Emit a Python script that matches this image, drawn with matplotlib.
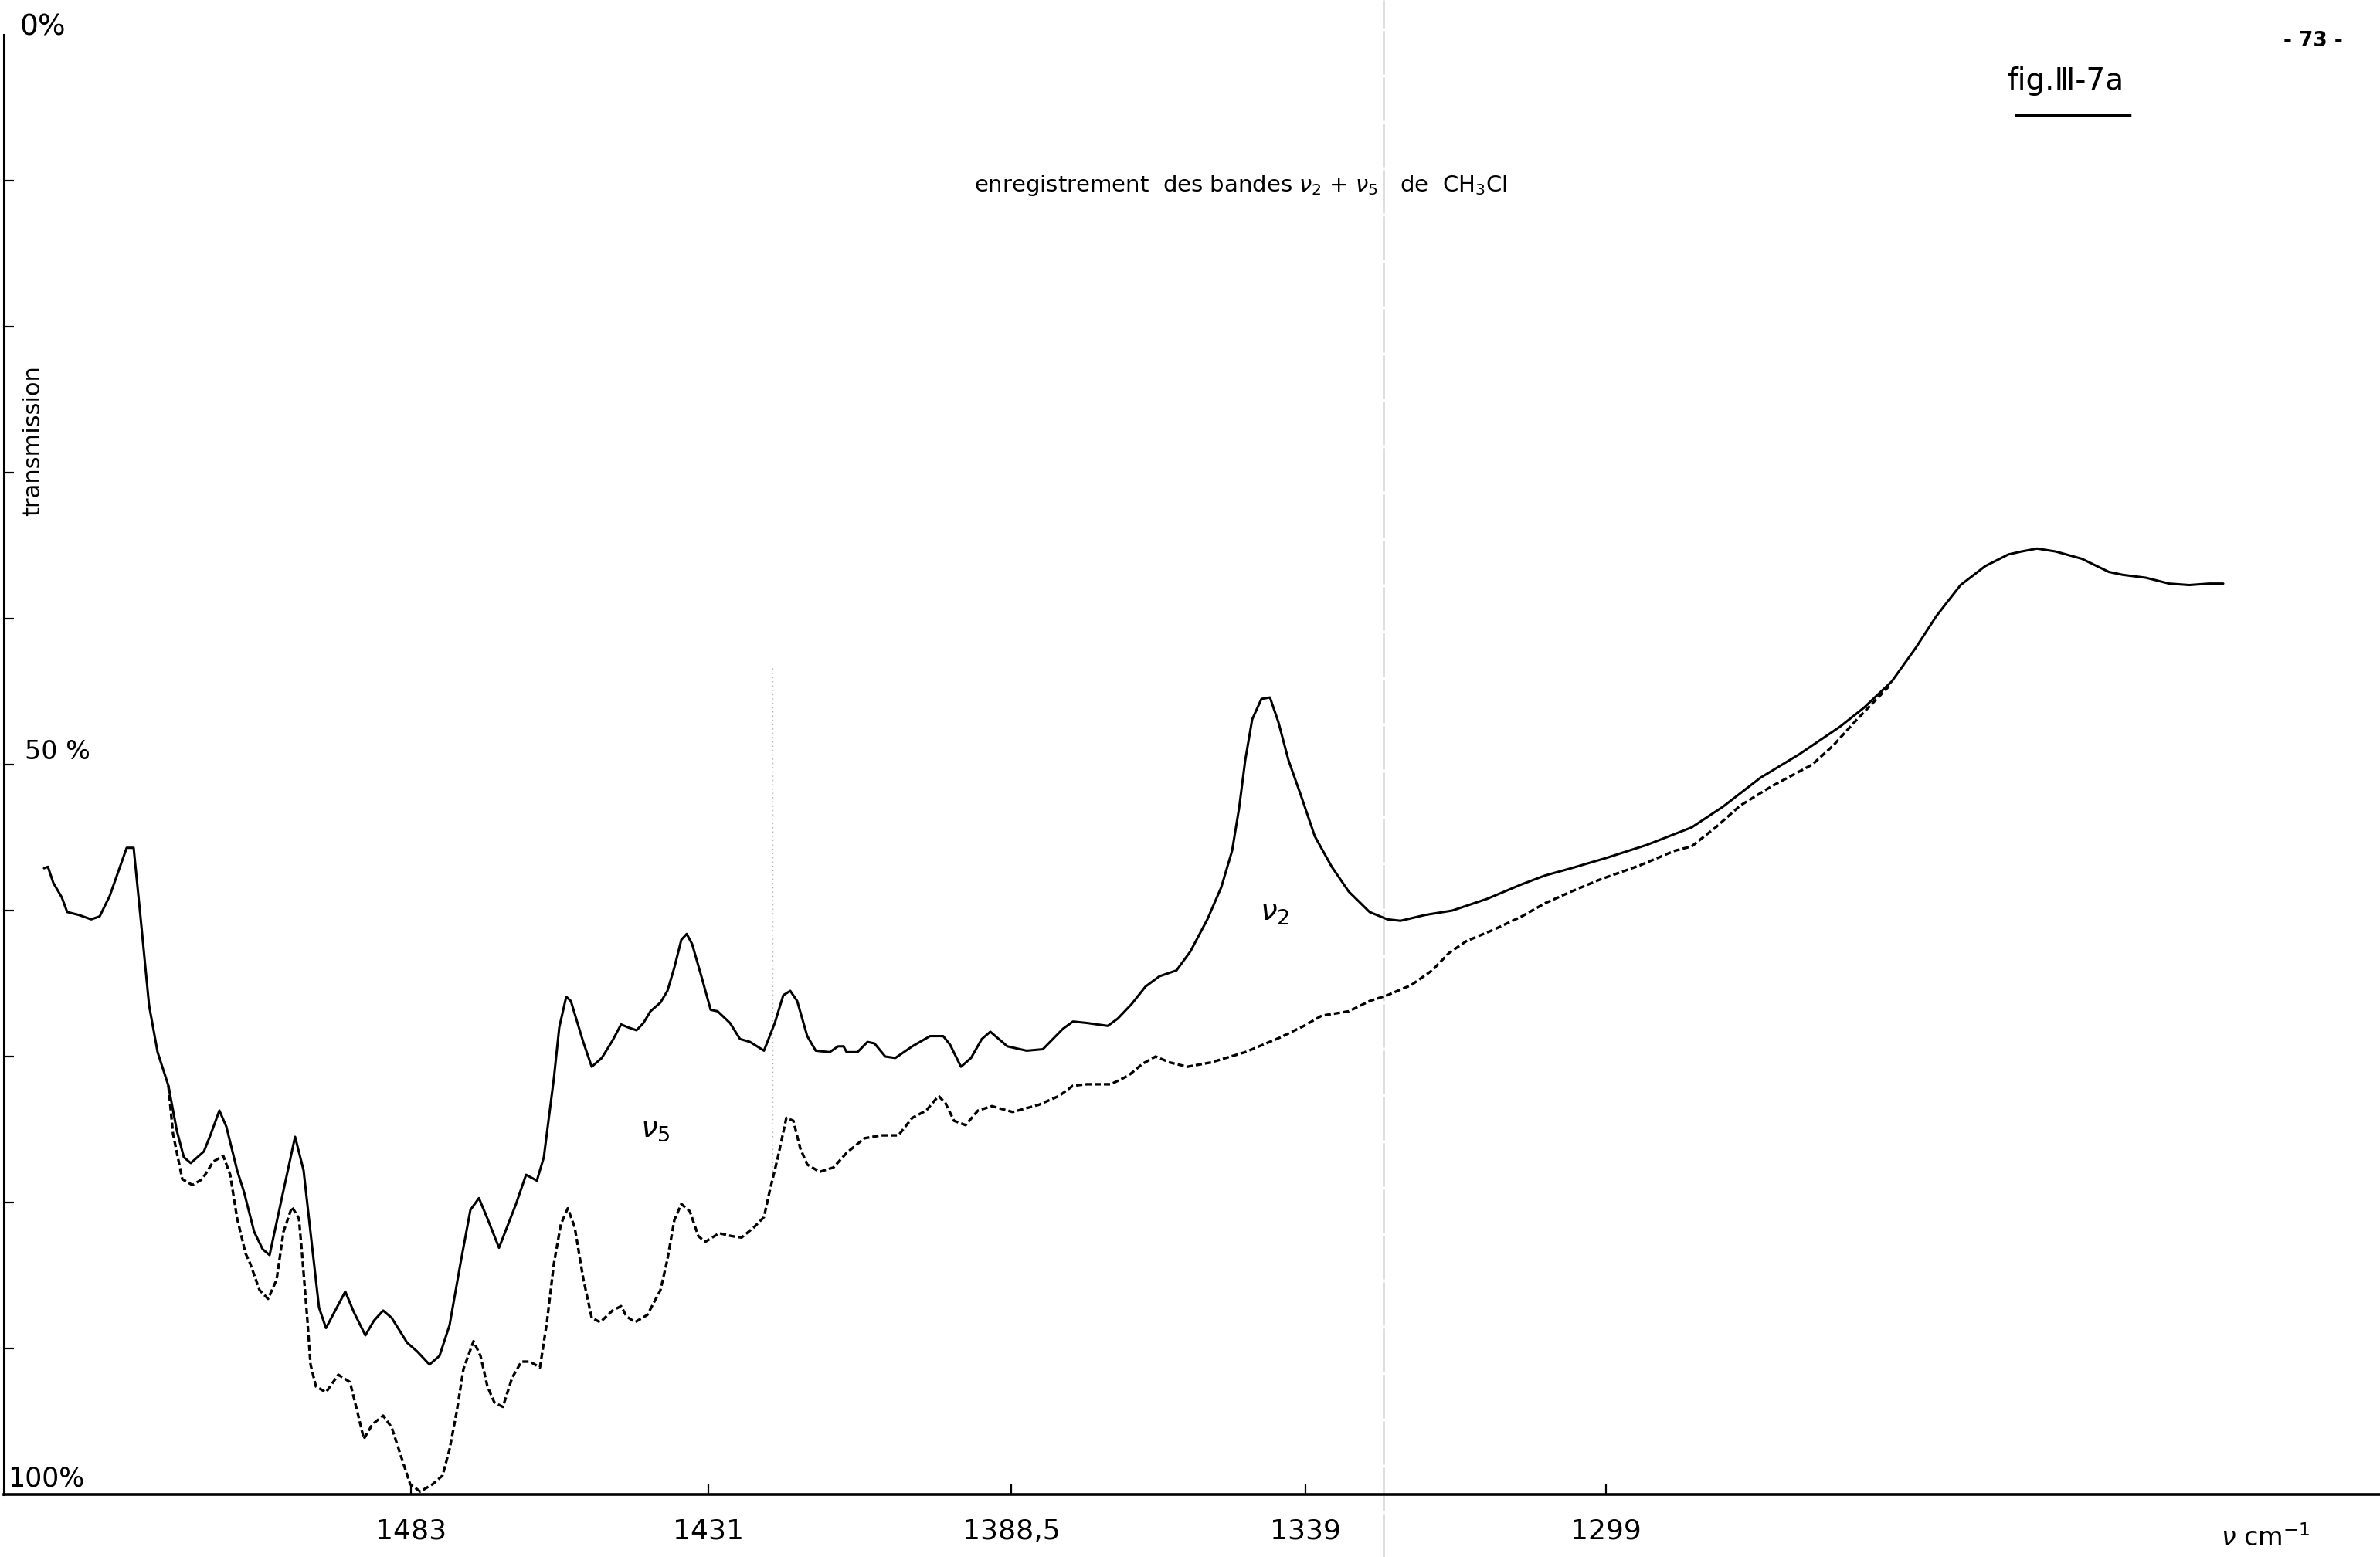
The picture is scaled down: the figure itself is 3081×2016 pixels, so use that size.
import matplotlib.pyplot as plt
from matplotlib.lines import Line2D

# recorder trace: position along the chart paper (left -> right) and transmission in %
solid_pos = [57, 62, 69, 80, 87, 102, 118, 129, 142, 156, 164, 173, 182, 193, 204, 218,
             229, 238, 247, 264, 273, 284, 293, 307, 316, 329, 340, 349, 364, 382, 393,
             404, 413, 422, 433, 447, 458, 473, 484, 496, 507, 527, 540, 556, 569, 582,
             596, 609, 620, 631, 646, 668, 681, 695, 704, 717, 724, 733, 739, 755, 766,
             779, 793, 804, 813, 824, 833, 842, 855, 864, 873, 882, 889, 896, 909, 920,
             929, 945, 958, 971, 989, 1003, 1014, 1023, 1032, 1045, 1056, 1074, 1085,
             1092, 1096, 1110, 1123, 1132, 1146, 1159, 1181, 1204, 1221, 1230, 1244,
             1257, 1271, 1282, 1293, 1304, 1329, 1350, 1376, 1389, 1407, 1434, 1447,
             1465, 1483, 1501, 1523, 1541, 1563, 1581, 1595, 1604, 1612, 1621, 1633,
             1644, 1655, 1668, 1684, 1702, 1724, 1746, 1773, 1796, 1813, 1845, 1880,
             1925, 1970, 2000, 2034, 2079, 2132, 2190, 2230, 2279, 2329, 2382, 2413,
             2449, 2480, 2507, 2538, 2570, 2600, 2617, 2637, 2661, 2695, 2730, 2748,
             2778, 2808, 2834, 2860, 2878]
solid_T = [57.1, 57.0, 58.1, 59.1, 60.1, 60.3, 60.6, 60.4, 59.0, 56.9, 55.7, 55.7, 60.5,
           66.5, 69.7, 72.0, 75.1, 76.9, 77.3, 76.5, 75.3, 73.7, 74.8, 77.8, 79.3, 82.0,
           83.2, 83.6, 79.9, 75.5, 77.8, 83.0, 87.2, 88.6, 87.5, 86.1, 87.5, 89.1, 88.1,
           87.4, 87.9, 89.6, 90.2, 91.1, 90.5, 88.4, 84.2, 80.5, 79.7, 81.1, 83.1, 80.1,
           78.1, 78.5, 76.9, 71.5, 68.0, 65.9, 66.2, 69.0, 70.7, 70.1, 68.9, 67.8, 68.0,
           68.2, 67.7, 66.9, 66.3, 65.5, 63.9, 62.0, 61.6, 62.3, 64.7, 66.8, 66.9, 67.7,
           68.8, 69.0, 69.6, 67.7, 65.8, 65.5, 66.2, 68.6, 69.6, 69.7, 69.3, 69.3, 69.7,
           69.7, 69.0, 69.1, 70.0, 70.1, 69.3, 68.6, 68.6, 69.2, 70.7, 70.1, 68.8, 68.3,
           68.8, 69.3, 69.6, 69.5, 68.1, 67.6, 67.7, 67.9, 67.4, 66.4, 65.2, 64.5, 64.1,
           62.8, 60.6, 58.4, 55.9, 53.0, 49.7, 46.9, 45.5, 45.4, 47.1, 49.7, 52.1, 54.9,
           57.0, 58.7, 60.1, 60.6, 60.7, 60.3, 60.0, 59.2, 58.2, 57.6, 57.1, 56.4, 55.5,
           54.3, 52.9, 50.9, 49.3, 47.4, 46.1, 44.3, 42.0, 39.8, 37.7, 36.4, 35.6, 35.4,
           35.2, 35.4, 35.9, 36.8, 37.0, 37.2, 37.6, 37.7, 37.6, 37.6]

# second recording (dotted trace)
dash_pos = [218, 224, 236, 249, 262, 276, 289, 298, 307, 318, 324, 336, 347, 358, 367,
            378, 387, 391, 398, 402, 409, 422, 438, 453, 462, 471, 482, 496, 507, 518,
            531, 544, 560, 573, 582, 591, 600, 613, 622, 631, 640, 651, 663, 675, 686,
            699, 708, 717, 726, 735, 744, 755, 766, 777, 793, 804, 811, 822, 838, 855,
            864, 873, 882, 893, 904, 913, 931, 947, 960, 976, 989, 996, 1007, 1018, 1027,
            1036, 1045, 1061, 1079, 1096, 1119, 1141, 1163, 1181, 1199, 1215, 1224, 1235,
            1250, 1266, 1284, 1311, 1345, 1371, 1389, 1407, 1438, 1461, 1479, 1496, 1514,
            1537, 1568, 1612, 1657, 1688, 1711, 1746, 1773, 1796, 1827, 1854, 1876, 1898,
            1934, 1970, 2000, 2034, 2070, 2123, 2168, 2190, 2221, 2253, 2293, 2346, 2373,
            2404, 2446]
dash_T = [72.0, 75.3, 78.4, 78.8, 78.4, 77.2, 76.8, 78.1, 81.1, 83.5, 84.2, 86.0, 86.6,
          85.3, 82.0, 80.3, 81.1, 83.5, 88.1, 91.1, 92.6, 93.0, 91.8, 92.3, 94.2, 96.2,
          95.2, 94.6, 95.4, 97.2, 99.3, 99.8, 99.3, 98.7, 96.9, 94.4, 91.4, 89.5, 90.5,
          92.6, 93.7, 94.0, 92.0, 90.9, 90.9, 91.3, 88.2, 84.2, 81.5, 80.4, 81.7, 85.2,
          87.9, 88.2, 87.4, 87.1, 87.8, 88.2, 87.7, 86.0, 83.9, 81.2, 80.1, 80.6, 82.3,
          82.7, 82.1, 82.3, 82.4, 81.7, 81.0, 79.3, 76.9, 74.2, 74.4, 76.3, 77.4, 77.9,
          77.6, 76.6, 75.6, 75.4, 75.4, 74.2, 73.7, 72.7, 73.2, 74.4, 74.7, 73.7, 73.4,
          73.8, 73.3, 72.7, 72.0, 71.9, 71.9, 71.3, 70.5, 70.0, 70.4, 70.7, 70.4, 69.7,
          68.7, 67.9, 67.2, 66.9, 66.2, 65.8, 65.1, 64.1, 62.9, 62.1, 61.3, 60.4, 59.5,
          58.7, 57.9, 56.9, 55.9, 55.6, 54.3, 52.8, 51.5, 50.0, 48.7, 46.9, 44.6]

tick_pos = [532, 917, 1309, 1690, 2079]
tick_labels = ["1483", "1431", "1388,5", "1339", "1299"]
marker_pos = 1791
fold_pos = 1000

W, H = 3081, 2016

fig = plt.figure(figsize=(W / 100, H / 100), dpi=100)
ax = fig.add_axes([5 / W, 81 / H, 3076 / W, 1890 / H])
ax.set_xlim(5, 3081)
ax.set_ylim(100, 0)

# faint paper fold and the vertical marker line
ax.plot([fold_pos, fold_pos], [43.4, 78.0], color="0.7", lw=1.0, ls=(0, (1, 3)))
ax.axvline(marker_pos, ymin=-0.043, ymax=1.024, color="black", lw=0.9,
           ls=(0, (45, 3)), clip_on=False)

ax.plot(solid_pos, solid_T, color="black", lw=2.2, solid_joinstyle="round",
        solid_capstyle="round")
ax.plot(dash_pos, dash_T, color="black", lw=2.4, ls=(0, (2.4, 1.2)))

for s in ["top", "right"]:
    ax.spines[s].set_visible(False)
ax.spines["left"].set_linewidth(2.2)
ax.spines["bottom"].set_linewidth(2.6)

ax.set_yticks(range(10, 100, 10))
ax.set_yticklabels([])
ax.tick_params(axis="y", direction="in", length=9, width=1.6)
ax.set_xticks(tick_pos, tick_labels)
ax.tick_params(axis="x", direction="in", length=10, width=1.6, pad=22, labelsize=26)

# scale labels drawn on the paper
ax.text(25, -0.5, "0%", fontsize=27, ha="left", va="center")
ax.text(32, 50, "50 %", fontsize=24, ha="left", va="bottom")
ax.text(10, 99.8, "100%", fontsize=25, ha="left", va="bottom")
ax.text(43, 27.8, "transmission", fontsize=22, rotation=90, ha="center", va="center")

ax.text(1650, 60.1, r"$\nu_2$", fontsize=28, ha="center", va="center")
ax.text(848, 74.9, r"$\nu_5$", fontsize=28, ha="center", va="center")

ax.text(1261, 10.3, r"enregistrement  des bandes $\nu_2$ + $\nu_5$   de  CH$_3$Cl",
        fontsize=21, ha="left", va="center")

fig.text(2598 / W, 1 - 105 / H, "fig.Ⅲ-7a", fontsize=28, ha="left", va="center")
fig.add_artist(Line2D([2610 / W, 2757 / W], [1 - 149 / H, 1 - 149 / H],
                      transform=fig.transFigure, color="black", lw=2.5))
fig.text(2994 / W, 1 - 53 / H, "- 73 -", fontsize=19, fontweight="bold",
         ha="center", va="center")
fig.text(2932 / W, 1 - 1992 / H, r"$\nu$ cm$^{-1}$", fontsize=24,
         ha="center", va="center")

fig.savefig("out.png", dpi=100, facecolor="white")
